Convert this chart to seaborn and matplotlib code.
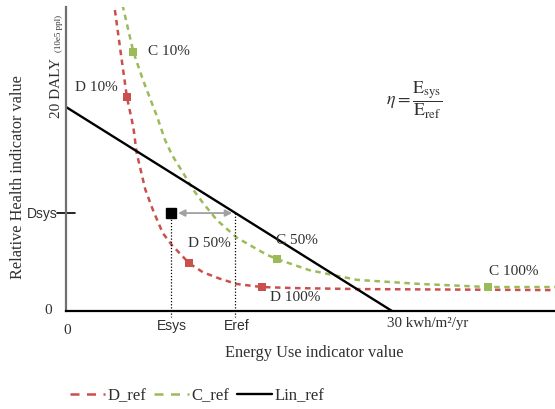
import pandas as pd
import matplotlib
matplotlib.use("Agg")
import matplotlib.pyplot as plt
import seaborn as sns

# Data (x: kwh/m2/yr, y: DALY)
d_x = [4.5, 5.0, 5.6, 6.2, 6.5, 7.3, 8.0, 8.9, 9.75, 10.7, 11.3, 12.6, 14.2, 15.7, 18.0, 20.9, 26.8, 45.0]
d_y = [29.5, 25.6, 21.0, 18.0, 15.5, 11.9, 9.9, 7.65, 6.45, 5.4, 4.7, 3.8, 3.15, 2.65, 2.35, 2.25, 2.15, 2.05]
c_x = [5.2, 6.2, 7.1, 8.4, 9.1, 9.75, 10.8, 11.7, 12.6, 13.9, 15.7, 18.5, 19.4, 22.4, 26.8, 32.6, 38.8, 45.0]
c_y = [30.0, 25.4, 22.6, 19.0, 16.8, 15.3, 13.5, 11.9, 10.6, 8.9, 7.2, 5.5, 5.1, 4.0, 3.05, 2.65, 2.35, 2.35]
lin_x = [0, 30]
lin_y = [20, 0]

d_pts_x = [5.6, 11.3, 18.0]
d_pts_y = [21.0, 4.7, 2.35]
d_pts_lab = ["D 10%", "D 50%", "D 100%"]
c_pts_x = [6.2, 19.4, 38.8]
c_pts_y = [25.4, 5.1, 2.35]
c_pts_lab = ["C 10%", "C 50%", "C 100%"]

e_sys = 9.66
e_ref = 15.55
d_sys = 9.6

RED = "#c9504d"
GREEN = "#9bbb59"
TXT = "#303030"

sns.set_style("white")
plt.rcParams["font.family"] = ["Liberation Serif", "DejaVu Serif"]
plt.rcParams["mathtext.fontset"] = "stix"

W, H = 555, 409
fig = plt.figure(figsize=(W / 100, H / 100), dpi=100)
ax = fig.add_axes([66 / W, 1 - 311 / H, 1 - 66 / W, (311 - 7) / H])


def fx(px):
    return px / W


def fy(py):
    return 1 - py / H


dash = (0, (2.2, 1.8))
sns.lineplot(x=d_x, y=d_y, ax=ax, color=RED, lw=1.8, linestyle=dash, label="D_ref", sort=False)
sns.lineplot(x=c_x, y=c_y, ax=ax, color=GREEN, lw=1.8, linestyle=dash, label="C_ref", sort=False)
sns.lineplot(x=lin_x, y=lin_y, ax=ax, color="black", lw=1.7, label="Lin_ref")
sns.scatterplot(x=d_pts_x, y=d_pts_y, ax=ax, color=RED, marker="s", s=30, linewidth=0, zorder=5)
sns.scatterplot(x=c_pts_x, y=c_pts_y, ax=ax, color=GREEN, marker="s", s=30, linewidth=0, zorder=5)

ax.set_xlim(0, 45)
ax.set_ylim(0, 29.8)
ax.set_xticks([])
ax.set_yticks([])
ax.set_xlabel("")
ax.set_ylabel("")
for s in ["top", "right"]:
    ax.spines[s].set_visible(False)
ax.spines["left"].set_color("#707070")
ax.spines["left"].set_linewidth(1.6)
ax.spines["bottom"].set_color("black")
ax.spines["bottom"].set_linewidth(1.6)

# point labels
offs = {"D 10%": (-0.8, 0.9, "right"), "D 50%": (-0.1, 1.9, "left"), "D 100%": (0.75, -1.05, "left"),
        "C 10%": (1.3, 0.0, "left"), "C 50%": (-0.1, 1.85, "left"), "C 100%": (0.1, 1.55, "left")}
for xs, ys, labs in [(d_pts_x, d_pts_y, d_pts_lab), (c_pts_x, c_pts_y, c_pts_lab)]:
    for x, y, lab in zip(xs, ys, labs):
        dx, dy, ha = offs[lab]
        ax.text(x + dx, y + dy, lab, ha=ha, va="center", fontsize=11, color=TXT)

# system point, arrow and guide lines
ax.plot([e_sys], [d_sys], marker="s", color="black", ms=7, zorder=6, clip_on=False)
ax.annotate("", xy=(e_ref, d_sys), xytext=(e_sys + 0.4, d_sys),
            arrowprops=dict(arrowstyle="<|-|>", color="#a0a0a0", lw=1.3, mutation_scale=10))
ax.plot([e_sys, e_sys], [d_sys, -0.6], color="black", lw=0.9, ls=(0, (1, 1.5)), clip_on=False)
ax.plot([e_ref, e_ref], [d_sys, -0.6], color="black", lw=0.9, ls=(0, (1, 1.5)), clip_on=False)
ax.plot([-0.8, 0.8], [d_sys, d_sys], color="black", lw=1.2, clip_on=False)

sans = ["Liberation Sans", "DejaVu Sans"]
fig.text(fx(58), fy(214), "Dsys", ha="right", va="center", fontsize=10, family=sans, color=TXT)
fig.text(fx(172), fy(326), "Esys", ha="center", va="center", fontsize=10, family=sans, color=TXT)
fig.text(fx(237), fy(326), "Eref", ha="center", va="center", fontsize=10, family=sans, color=TXT)
fig.text(fx(48), fy(310), "0", ha="center", va="center", fontsize=11, color=TXT)
fig.text(fx(67), fy(331), "0", ha="center", va="center", fontsize=11, color=TXT)
fig.text(fx(428), fy(323), "30 kwh/m\u00b2/yr", ha="center", va="center", fontsize=10.8, color=TXT)
fig.text(fx(57), fy(118), "20 DALY", rotation=90, ha="center", va="bottom", fontsize=11, color=TXT)
fig.text(fx(59), fy(52), "(10e5 ppl)", rotation=90, ha="center", va="bottom", fontsize=6.5, color=TXT)
fig.text(fx(18), fy(177), "Relative Health indicator value", rotation=90, ha="center", va="center",
         fontsize=11.7, color=TXT)
fig.text(fx(314), fy(353), "Energy Use indicator value", ha="center", va="center", fontsize=11.8, color=TXT)
fig.text(fx(414), fy(100), r"$\eta = \dfrac{\mathrm{E_{sys}}}{\mathrm{E_{ref}}}$", ha="center", va="center",
         fontsize=13, color=TXT)

leg = ax.legend(loc="center left", bbox_to_anchor=(fx(70), fy(396)), bbox_transform=fig.transFigure,
                ncol=3, frameon=False, fontsize=12, handlelength=2.1, handletextpad=0.15,
                columnspacing=0.45, borderpad=0, borderaxespad=0)
for t in leg.get_texts():
    t.set_color(TXT)
for ln in leg.get_lines()[:2]:
    ln.set_linestyle((0, (3.6, 3.0)))

fig.savefig("out.png", dpi=100)
